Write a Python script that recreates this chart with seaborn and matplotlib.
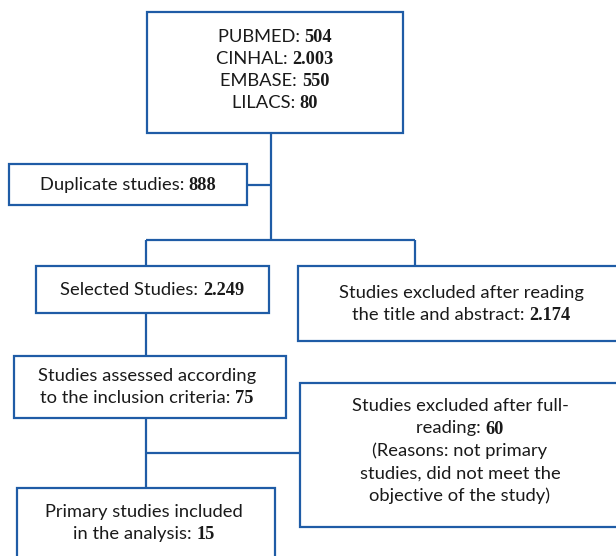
import matplotlib.pyplot as plt
from matplotlib.patches import Rectangle
import seaborn as sns

sns.set_theme(style="white")
plt.rcParams['font.family'] = ['Lato', 'DejaVu Sans']

# Flow chart values
database_names = ["PUBMED", "CINHAL", "EMBASE", "LILACS"]
database_counts = ["504", "2.003", "550", "80"]
duplicate_count = "888"
selected_count = "2.249"
excluded_title_count = "2.174"
assessed_count = "75"
excluded_full_count = "60"
included_count = "15"

BLUE = "#1f5ca6"
FS = 13.2
SANS = ['Lato', 'DejaVu Sans']
SERIF = ['Liberation Serif', 'DejaVu Serif']

fig = plt.figure(figsize=(6.16, 5.56), dpi=100)
ax = fig.add_axes([0, 0, 1, 1])
ax.set_xlim(0, 616)
ax.set_ylim(556, 0)
ax.axis("off")
renderer = fig.canvas.get_renderer()


def box(x0, y0, x1, y1):
    ax.add_patch(Rectangle((x0, y0), x1 - x0, y1 - y0, facecolor="white",
                           edgecolor=BLUE, lw=1.6, zorder=2))


def line(xs, ys):
    ax.plot(xs, ys, color=BLUE, lw=1.6, zorder=1, solid_capstyle="butt")


def text_line(xc, y, parts):
    texts = []
    for s, bold in parts:
        t = ax.text(0, y, s, fontsize=FS, va="baseline", ha="left", color="#1a1a1a",
                    family=SERIF if bold else SANS,
                    fontweight="bold" if bold else "normal", zorder=3)
        texts.append(t)
    widths = [t.get_window_extent(renderer).width for t in texts]
    x = xc - sum(widths) / 2
    for t, w in zip(texts, widths):
        t.set_x(x)
        x += w


def block(xc, y_first, rows, step=22.0):
    for i, parts in enumerate(rows):
        text_line(xc, y_first + i * step, parts)


# connectors
line([271, 271], [133, 240])
line([247, 271], [185, 185])
line([146, 415], [240, 240])
line([146, 146], [240, 266])
line([415, 415], [240, 266])
line([146, 146], [313, 488])
line([146, 300], [453, 453])

# boxes
box(147, 12, 403, 133)
block(275, 42, [[(n + ": ", False), (c, True)] for n, c in zip(database_names, database_counts)])

box(9, 164, 247, 205)
block(128, 190, [[("Duplicate studies: ", False), (duplicate_count, True)]])

box(36, 266, 269, 313)
block(152, 295, [[("Selected Studies: ", False), (selected_count, True)]])

box(298, 266, 625, 341)
block(461, 298, [[("Studies excluded after reading", False)],
                 [("the title and abstract: ", False), (excluded_title_count, True)]])

box(14, 356, 286, 418)
block(147, 381, [[("Studies assessed according", False)],
                 [("to the inclusion criteria: ", False), (assessed_count, True)]])

box(300, 383, 625, 527)
block(460, 411, [[("Studies excluded after full-", False)],
                 [("reading: ", False), (excluded_full_count, True)],
                 [("(Reasons: not primary", False)],
                 [("studies, did not meet the", False)],
                 [("objective of the study)", False)]], step=22.5)

box(17, 488, 275, 570)
block(144, 517, [[("Primary studies included", False)],
                 [("in the analysis: ", False), (included_count, True)]])

fig.savefig("out.png", dpi=100, facecolor="white")
